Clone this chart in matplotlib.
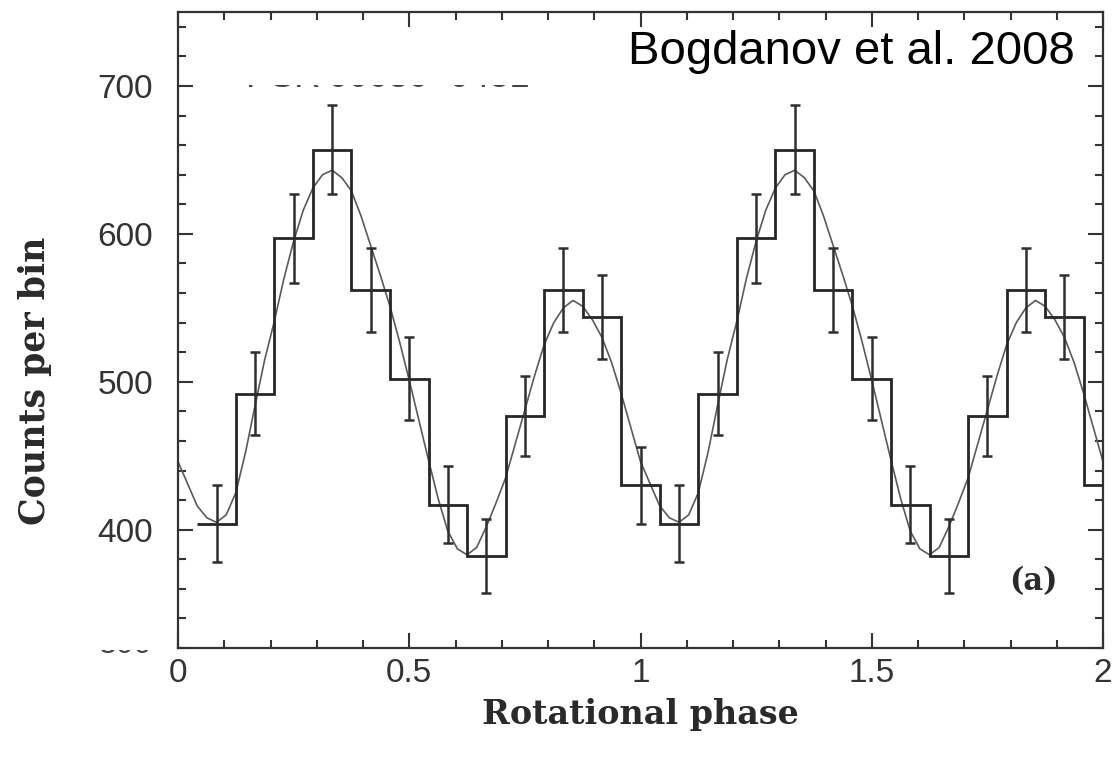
import numpy as np
import matplotlib
matplotlib.use("Agg")
import matplotlib.pyplot as plt
from matplotlib.ticker import MultipleLocator, FuncFormatter
from matplotlib.transforms import Bbox, TransformedBbox

# counts in 12 phase bins, bin centres at 1/12, 2/12, ..., 1
bin_counts = [404, 492, 597, 657, 562, 502, 417, 382, 477, 562, 544, 430]
count_errors = [26, 28, 30, 30, 28.5, 28, 26, 25, 27, 28.5, 28.5, 26]

# model light curve over one rotation, sampled every 1/48 in phase (starting at 0)
model_curve = [446, 431, 416, 408, 405, 410, 425, 452,
               484, 515, 541, 570, 595, 616, 631, 640,
               643, 638, 629, 612, 592, 572, 551, 527,
               501, 474, 447, 421, 399, 387, 383, 388,
               402, 418, 435, 458, 481, 504, 525, 540,
               550, 555, 551, 542, 530, 513, 492, 469]

n_cycles = 2
nbins = len(bin_counts)

# histogram: two cycles, bins centred on k/12
counts = np.tile(bin_counts, n_cycles)
errs = np.tile(count_errors, n_cycles)
centres = np.arange(1, nbins * n_cycles + 1) / nbins
edges = np.arange(nbins * n_cycles + 1) / nbins + 0.5 / nbins

curve = np.append(np.tile(model_curve, n_cycles), model_curve[0])
curve_phase = np.arange(len(curve)) / len(model_curve)

fig = plt.figure(figsize=(11.16, 7.6), dpi=100)
ax = fig.add_axes([178 / 1116, 1 - 648 / 760, 925 / 1116, 636 / 760])

ax.stairs(counts, edges, baseline=None, color="#262626", linewidth=2.0, zorder=3)
ax.errorbar(centres[:-1], counts[:-1], yerr=errs[:-1], fmt="none", ecolor="#2e2e2e",
            elinewidth=1.8, capsize=3.5, capthick=1.8, zorder=4)
ax.plot(curve_phase, curve, color="#5a5a5a", linewidth=1.2, zorder=2)

ax.set_xlim(0, 2)
ax.set_ylim(320, 750)
ax.xaxis.set_major_locator(MultipleLocator(0.5))
ax.xaxis.set_minor_locator(MultipleLocator(0.1))
ax.yaxis.set_major_locator(MultipleLocator(100))
ax.yaxis.set_minor_locator(MultipleLocator(20))
ax.xaxis.set_major_formatter(FuncFormatter(lambda v, p: "%g" % v))

ax.tick_params(which="both", direction="in", top=True, right=True, colors="#333333")
ax.tick_params(which="major", length=11, width=1.5, labelsize=24)
ax.tick_params(which="minor", length=5.5, width=1.5)
ax.tick_params(axis="x", which="major", pad=7)
ax.tick_params(axis="y", which="major", pad=18)
for lab in ax.get_xticklabels() + ax.get_yticklabels():
    lab.set_family("Liberation Sans")
for sp in ax.spines.values():
    sp.set_linewidth(1.6)
    sp.set_color("#333333")

ax.set_xlabel("Rotational phase", family="DejaVu Serif", fontsize=24, weight="bold",
              color="#2a2a2a", va="center")
ax.xaxis.set_label_coords(0.5, -0.105)
ax.set_ylabel("Counts per bin", family="DejaVu Serif", fontsize=25, weight="bold",
              color="#2a2a2a", va="center")
ax.yaxis.set_label_coords(-0.155, 0.42)

ax.text(0.925, 0.104, "(a)", transform=ax.transAxes, family="DejaVu Serif",
        fontsize=22, weight="bold", color="#2a2a2a", ha="center", va="center")

# old labels, mostly blanked out
t1 = fig.text(246 / 1116, 1 - 87 / 760, "PSR J0030+0451", family="Liberation Sans",
              fontsize=26, color="#444444", ha="left", va="baseline")
t1.set_clip_box(TransformedBbox(Bbox([[0.2, 1 - 87.8 / 760], [0.5, 1 - 84.8 / 760]]),
                                fig.transFigure))
t2 = fig.text(152 / 1116, 1 - 653 / 760, "300", family="Liberation Sans",
              fontsize=23, color="#444444", ha="right", va="baseline")
t2.set_clip_box(TransformedBbox(Bbox([[0.05, 1 - 654 / 760], [0.15, 1 - 650 / 760]]),
                                fig.transFigure))

fig.text(1075 / 1116, 1 - 52 / 760, "Bogdanov et al. 2008", family="Liberation Sans",
         fontsize=34, color="black", ha="right", va="center")

fig.savefig("out.png", dpi=100)
